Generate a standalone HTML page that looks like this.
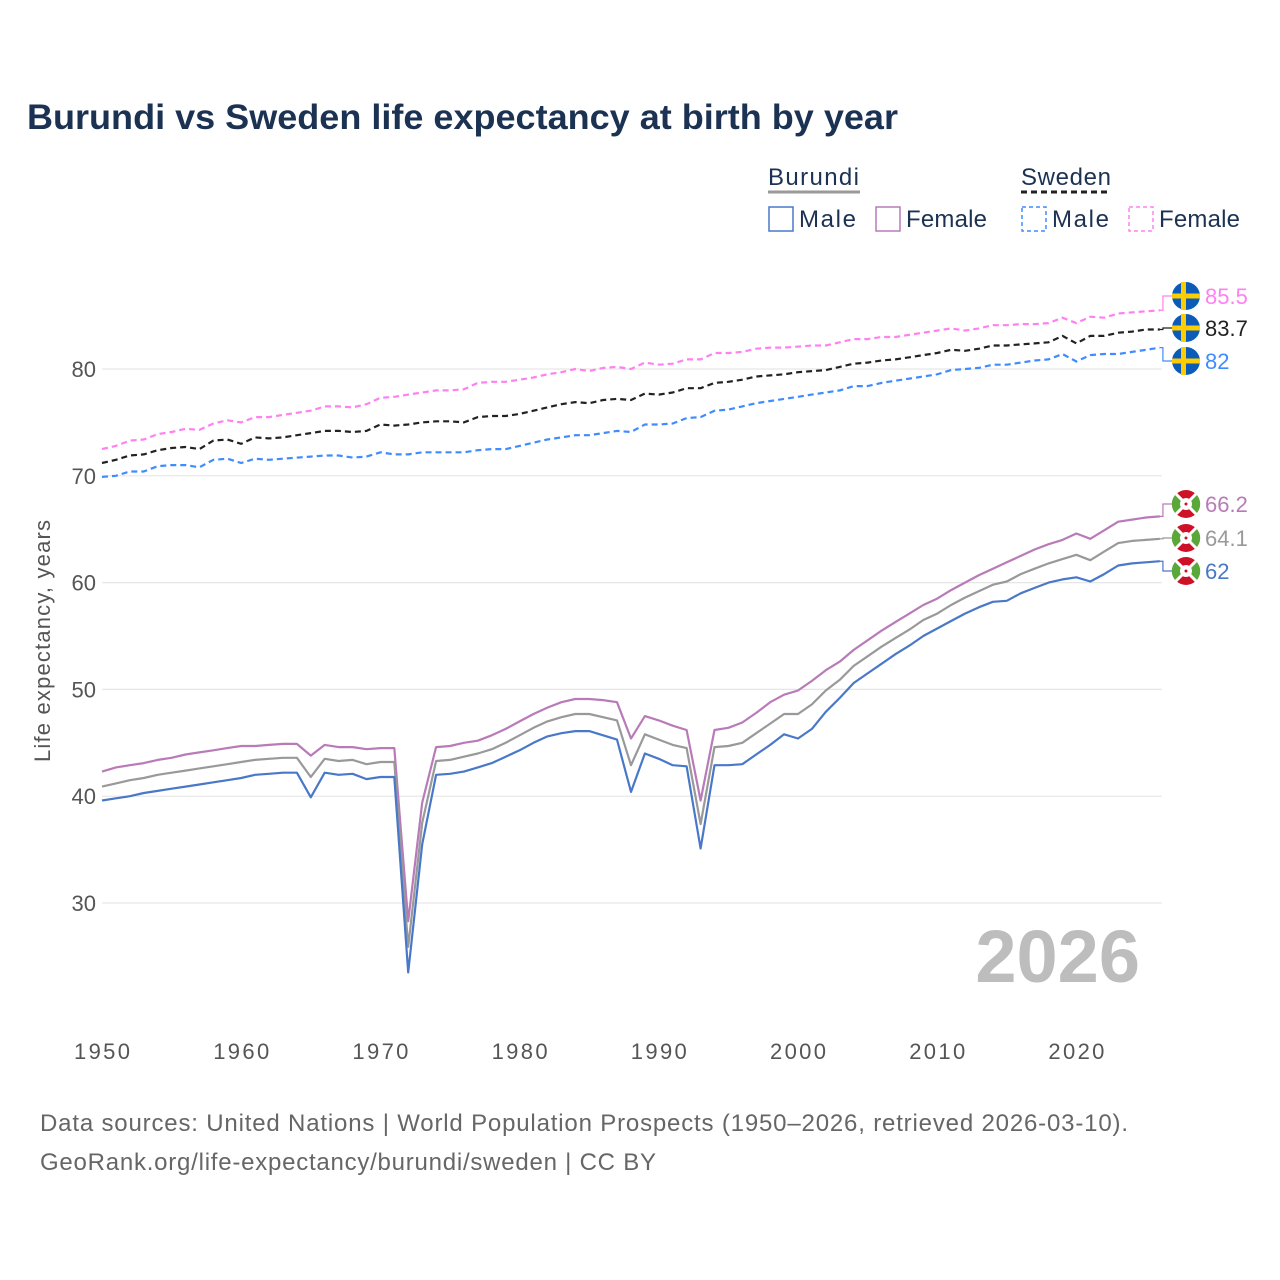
<!DOCTYPE html>
<html><head><meta charset="utf-8">
<style>
body{margin:0;background:#fff;}
svg{display:block;font-family:"Liberation Sans",sans-serif;}
</style></head>
<body>
<svg id="chart" width="1280" height="1280" viewBox="0 0 1280 1280">
<text x="27" y="129" font-size="35" font-weight="bold" fill="#1b3252" textLength="871" lengthAdjust="spacingAndGlyphs">Burundi vs Sweden life expectancy at birth by year</text>
<g>
 <text x="768" y="185" font-size="24" fill="#1b3252" textLength="91">Burundi</text>
 <line x1="768" y1="192" x2="860" y2="192" stroke="#999" stroke-width="3"/>
 <text x="1021" y="185" font-size="24" fill="#1b3252" textLength="90">Sweden</text>
 <line x1="1021" y1="192" x2="1111" y2="192" stroke="#222" stroke-width="3" stroke-dasharray="6,4"/>
 <g><rect x="769" y="207" width="24" height="24" fill="none" stroke="#4a78c8" stroke-width="1.5"/><text x="799" y="227" font-size="24" fill="#1b3252" textLength="57">Male</text></g>
 <g><rect x="876" y="207" width="24" height="24" fill="none" stroke="#b87bb8" stroke-width="1.5"/><text x="906" y="227" font-size="24" fill="#1b3252" textLength="81">Female</text></g>
 <g><rect x="1022" y="207" width="24" height="24" fill="none" stroke="#3f8cff" stroke-width="1.5" stroke-dasharray="4,3"/><text x="1052" y="227" font-size="24" fill="#1b3252" textLength="57">Male</text></g>
 <g><rect x="1129" y="207" width="24" height="24" fill="none" stroke="#ff80f0" stroke-width="1.5" stroke-dasharray="4,3"/><text x="1159" y="227" font-size="24" fill="#1b3252" textLength="81">Female</text></g>
</g>
<text transform="translate(50,641) rotate(-90)" text-anchor="middle" font-size="22" fill="#555" textLength="242">Life expectancy, years</text>
<g id="grid"></g><g id="xt"></g><g id="lines"></g><g id="ends"></g>
<text x="1140" y="982" text-anchor="end" font-size="74" font-weight="bold" fill="#bdbdbd">2026</text>
<text x="40" y="1131" font-size="24" fill="#666" textLength="1088">Data sources: United Nations | World Population Prospects (1950–2026, retrieved 2026-03-10).</text>
<text x="40" y="1170" font-size="24" fill="#666" textLength="616">GeoRank.org/life-expectancy/burundi/sweden | CC BY</text>
</svg>
<script>
const yTicks=[30,40,50,60,70,80];
const xTicks=[1950,1960,1970,1980,1990,2000,2010,2020];
const startYear=1950;
const burundiMale=[39.6,39.8,40.0,40.3,40.5,40.7,40.9,41.1,41.3,41.5,41.7,42.0,42.1,42.2,42.2,39.9,42.2,42.0,42.1,41.6,41.8,41.8,23.5,35.5,42.0,42.1,42.3,42.7,43.1,43.7,44.3,45.0,45.6,45.9,46.1,46.1,45.7,45.3,40.4,44.0,43.5,42.9,42.8,35.1,42.9,42.9,43.0,43.9,44.8,45.8,45.4,46.3,47.9,49.2,50.6,51.5,52.4,53.3,54.1,55.0,55.7,56.4,57.1,57.7,58.2,58.3,59.0,59.5,60.0,60.3,60.5,60.1,60.8,61.6,61.8,61.9,62.0];
const burundiFemale=[42.3,42.7,42.9,43.1,43.4,43.6,43.9,44.1,44.3,44.5,44.7,44.7,44.8,44.9,44.9,43.8,44.8,44.6,44.6,44.4,44.5,44.5,28.3,39.4,44.6,44.7,45.0,45.2,45.7,46.3,47.0,47.7,48.3,48.8,49.1,49.1,49.0,48.8,45.4,47.5,47.1,46.6,46.2,39.6,46.2,46.4,46.9,47.8,48.8,49.5,49.9,50.8,51.8,52.6,53.7,54.6,55.5,56.3,57.1,57.9,58.5,59.3,60.0,60.7,61.3,61.9,62.5,63.1,63.6,64.0,64.6,64.1,64.9,65.7,65.9,66.1,66.2];
const burundiBoth=[40.9,41.2,41.5,41.7,42.0,42.2,42.4,42.6,42.8,43.0,43.2,43.4,43.5,43.6,43.6,41.8,43.5,43.3,43.4,43.0,43.2,43.2,25.9,37.5,43.3,43.4,43.7,44.0,44.4,45.0,45.7,46.4,47.0,47.4,47.7,47.7,47.4,47.1,42.9,45.8,45.3,44.8,44.5,37.4,44.6,44.7,45.0,45.9,46.8,47.7,47.7,48.6,49.9,50.9,52.2,53.1,54.0,54.8,55.6,56.5,57.1,57.9,58.6,59.2,59.8,60.1,60.8,61.3,61.8,62.2,62.6,62.1,62.9,63.7,63.9,64.0,64.1];
const swedenBoth=[71.2,71.5,71.9,72.0,72.4,72.6,72.7,72.5,73.3,73.4,73.0,73.6,73.5,73.6,73.8,74.0,74.2,74.2,74.1,74.2,74.8,74.7,74.8,75.0,75.1,75.1,75.0,75.5,75.6,75.6,75.8,76.1,76.4,76.7,76.9,76.8,77.1,77.2,77.1,77.7,77.6,77.8,78.2,78.2,78.7,78.8,79.0,79.3,79.4,79.5,79.7,79.8,79.9,80.2,80.5,80.6,80.8,80.9,81.1,81.3,81.5,81.8,81.7,81.9,82.2,82.2,82.3,82.4,82.5,83.1,82.4,83.1,83.1,83.4,83.5,83.7,83.7];
const swedenFemale=[72.5,72.8,73.3,73.4,73.9,74.1,74.4,74.3,74.9,75.2,75.0,75.5,75.5,75.7,75.9,76.1,76.5,76.5,76.4,76.7,77.3,77.4,77.6,77.8,78.0,78.0,78.1,78.7,78.8,78.8,79.0,79.2,79.5,79.7,80.0,79.8,80.1,80.2,80.0,80.6,80.4,80.5,80.9,80.9,81.5,81.5,81.6,81.9,82.0,82.0,82.1,82.2,82.2,82.5,82.8,82.8,83.0,83.0,83.2,83.4,83.6,83.8,83.6,83.8,84.1,84.1,84.2,84.2,84.3,84.8,84.3,84.9,84.8,85.2,85.3,85.4,85.5];
const swedenMale=[69.9,70.0,70.4,70.4,70.9,71.0,71.0,70.8,71.5,71.6,71.2,71.6,71.5,71.6,71.7,71.8,71.9,71.9,71.7,71.8,72.2,72.0,72.0,72.2,72.2,72.2,72.2,72.4,72.5,72.5,72.8,73.1,73.4,73.6,73.8,73.8,74.0,74.2,74.1,74.8,74.8,74.9,75.4,75.5,76.1,76.2,76.5,76.8,77.0,77.2,77.4,77.6,77.8,78.0,78.4,78.4,78.7,78.9,79.1,79.3,79.5,79.9,80.0,80.1,80.4,80.4,80.6,80.8,80.9,81.4,80.7,81.3,81.4,81.4,81.6,81.8,82.0];

const NS="http://www.w3.org/2000/svg";
const X=yr=>102+(yr-1950)*13.92;
const Y=v=>369+(80-v)*10.68;
function mk(tag,attrs,parent){const e=document.createElementNS(NS,tag);for(const k in attrs)e.setAttribute(k,attrs[k]);parent.appendChild(e);return e;}
const grid=document.getElementById('grid'),xt=document.getElementById('xt'),lines=document.getElementById('lines'),ends=document.getElementById('ends');
yTicks.forEach(t=>{
 const l=mk('line',{x1:102,x2:1162,y1:Y(t),y2:Y(t),stroke:'#e6e6e6','stroke-width':1.2},grid);
 
 
 const tx=mk('text',{x:96,y:Y(t)+8,'text-anchor':'end','font-size':22,fill:'#555'},grid);
 tx.textContent=t;
 
 
});
xTicks.forEach(t=>{
 const tx=mk('text',{x:X(t),y:1059,'text-anchor':'middle','font-size':22,fill:'#555',textLength:56},xt);
 tx.textContent=t;
 
 
});
function series(arr,color,dash,name){
 const d=arr.map((v,i)=>(i?'L':'M')+X(startYear+i).toFixed(1)+','+Y(v).toFixed(1)).join('');
 const p=mk('path',{d:d,fill:'none',stroke:color,'stroke-width':2.2,'stroke-linejoin':'round'},lines);
 if(dash)p.setAttribute('stroke-dasharray','6,4');
 
 
}
series(burundiFemale,'#b87bb8',null,'line-burundi-female');
series(burundiBoth,'#999999',null,'line-burundi-both');
series(burundiMale,'#4a78c8',null,'line-burundi-male');
series(swedenFemale,'#ff80f0',true,'line-sweden-female');
series(swedenBoth,'#222222',true,'line-sweden-both');
series(swedenMale,'#3f8cff',true,'line-sweden-male');

function flag(cx,cy,country,g){
 if(country==='se'){
  mk('circle',{cx:cx,cy:cy,r:14,fill:'#0a5cb8'},g);
  mk('rect',{x:cx-5,y:cy-14,width:5,height:28,fill:'#fecc02'},g);
  mk('rect',{x:cx-14,y:cy-2.5,width:28,height:5,fill:'#fecc02'},g);
 }else{
  mk('circle',{cx:cx,cy:cy,r:14,fill:'#ce1126'},g);
  mk('path',{d:`M${cx-14},${cy}L${cx},${cy}L${cx-10},${cy-10}A14,14 0 0 0 ${cx-10},${cy+10}L${cx},${cy}Z`,fill:'#5aa83a'},g);
  mk('path',{d:`M${cx+14},${cy}L${cx},${cy}L${cx+10},${cy-10}A14,14 0 0 1 ${cx+10},${cy+10}L${cx},${cy}Z`,fill:'#5aa83a'},g);
  mk('line',{x1:cx-10,y1:cy-10,x2:cx+10,y2:cy+10,stroke:'#fff','stroke-width':3},g);
  mk('line',{x1:cx+10,y1:cy-10,x2:cx-10,y2:cy+10,stroke:'#fff','stroke-width':3},g);
  mk('circle',{cx:cx,cy:cy,r:6,fill:'#fff'},g);
  mk('circle',{cx:cx,cy:cy,r:1.5,fill:'#ce1126'},g);
 }
}
const endDefs=[
 {arr:swedenFemale,ly:296,c:'#ff80f0',lc:'#ff80f0',co:'se',n:'end-label-sweden-female'},
 {arr:swedenBoth,ly:328,c:'#222',lc:'#222',co:'se',n:'end-label-sweden-both'},
 {arr:swedenMale,ly:361,c:'#3f8cff',lc:'#3f8cff',co:'se',n:'end-label-sweden-male'},
 {arr:burundiFemale,ly:504,c:'#b87bb8',lc:'#b87bb8',co:'bi',n:'end-label-burundi-female'},
 {arr:burundiBoth,ly:538,c:'#999',lc:'#999',co:'bi',n:'end-label-burundi-both'},
 {arr:burundiMale,ly:571,c:'#4a78c8',lc:'#4a78c8',co:'bi',n:'end-label-burundi-male'}
];
endDefs.forEach(e=>{
 const g=mk('g',{},ends);
 
 
 const v=e.arr[e.arr.length-1];
 const x0=X(startYear+e.arr.length-1),y0=Y(v);
 mk('path',{d:`M${x0},${y0}L${x0+3},${y0}L${x0+3},${e.ly}L1172,${e.ly}`,fill:'none',stroke:e.c,'stroke-width':1.2},g);
 flag(1186,e.ly,e.co,g);
 const t=mk('text',{x:1205,y:e.ly+8,'font-size':22,fill:e.lc},g);
 t.textContent=String(v);
});
</script>
</body></html>
